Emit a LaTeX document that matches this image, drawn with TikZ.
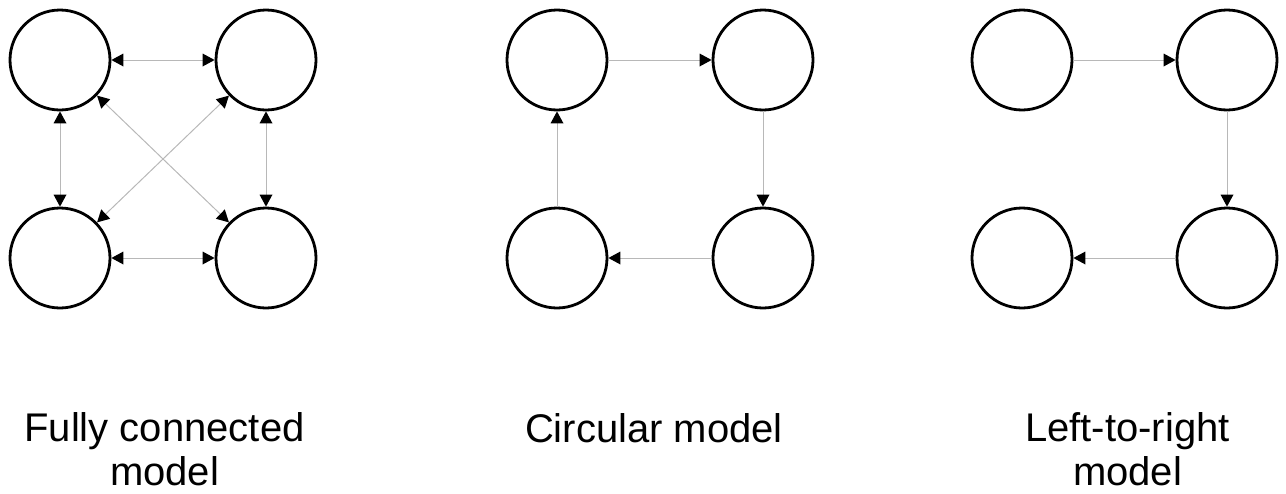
\documentclass[tikz,border=0pt]{standalone}
\usepackage{fontspec}
\setmainfont{Liberation Sans}
\usetikzlibrary{arrows.meta}
\tikzset{
  state/.style={circle, draw=black, line width=2.8pt, minimum size=100pt, inner sep=0pt, fill=white},
  tip/.tip={Triangle[length=12pt,width=13pt,color=black,line width=0pt]},
  link/.style={draw=black!28, line width=1pt, -tip},
  blink/.style={draw=black!28, line width=1pt, tip-tip},
  caption/.style={font=\fontsize{40}{44}\selectfont, align=center, anchor=base, inner sep=0pt, text depth=0pt}
}
\begin{document}
\begin{tikzpicture}[x=1pt,y=-1pt]
\useasboundingbox (0,0) rectangle (1286,493);
% Fully connected
\node[state] (a1) at (60,60) {};
\node[state] (a2) at (266,60) {};
\node[state] (a3) at (60,258) {};
\node[state] (a4) at (266,258) {};
\draw[blink] (a1) -- (a2);
\draw[blink] (a3) -- (a4);
\draw[blink] (a1) -- (a3);
\draw[blink] (a2) -- (a4);
\draw[blink] (a1) -- (a4);
\draw[blink] (a2) -- (a3);
% Circular
\node[state] (b1) at (557,60) {};
\node[state] (b2) at (763,60) {};
\node[state] (b3) at (557,258) {};
\node[state] (b4) at (763,258) {};
\draw[link] (b1) -- (b2);
\draw[link] (b2) -- (b4);
\draw[link] (b4) -- (b3);
\draw[link] (b3) -- (b1);
% Left-to-right
\node[state] (c1) at (1022,60) {};
\node[state] (c2) at (1227,60) {};
\node[state] (c3) at (1022,258) {};
\node[state] (c4) at (1227,258) {};
\draw[link] (c1) -- (c2);
\draw[link] (c2) -- (c4);
\draw[link] (c4) -- (c3);
% Captions (base anchor = baseline of the last line)
\node[caption] (t1) at (164.5,485) {Fully connected\\model};
\node[caption] (t2) at (654,442) {Circular model};
\node[caption] (t3) at (1127.5,485) {Left-to-right\\model};
\end{tikzpicture}
\end{document}
